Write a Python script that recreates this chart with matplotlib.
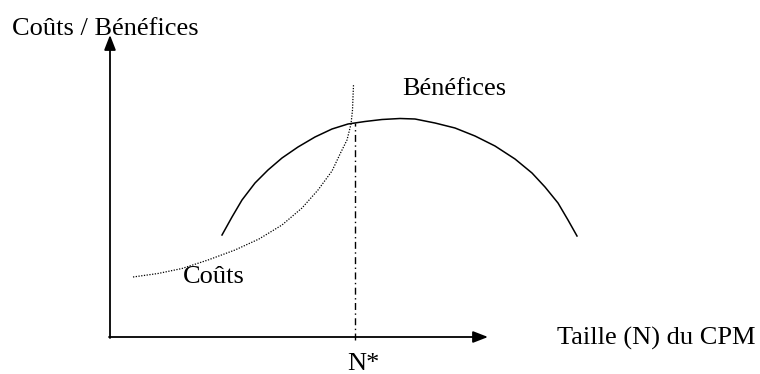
import matplotlib
matplotlib.use('Agg')
import matplotlib.pyplot as plt

# values read off the picture, in units measured from the axes origin
# (N to the right, cost / benefit upwards)
cost_n = [23, 48, 72, 98, 125, 149, 172, 192, 208, 222, 231, 237, 239, 241, 242.5, 243, 243.5]
cost_v = [60, 63.5, 68.5, 77, 87, 98, 112, 129, 147, 166, 185, 197, 205, 213, 227, 240, 252]

benef_n = [112, 122, 132, 145, 158, 172, 188, 205, 222, 238, 255, 272, 290, 305,
           325, 345, 365, 385, 405, 422, 435, 448, 458, 467]
benef_v = [102, 120, 137, 154, 167, 179, 190, 200, 208, 213, 215.5, 217.5, 218.5, 218,
           214, 209, 201, 191, 178, 164, 150, 134, 117, 101]

n_star = 245
n_star_top = 214
x_end = 378
y_end = 302

plt.rcParams['font.family'] = ['Liberation Serif', 'DejaVu Serif']

fig = plt.figure(figsize=(7.6, 3.74), dpi=100)
ax = fig.add_axes([0, 0, 1, 1])
ax.set_xlim(-110, 650)
ax.set_ylim(-37, 337)
ax.axis('off')

# axes with arrow heads
arrow = dict(arrowstyle='-|>,head_length=0.9,head_width=0.35', color='black', lw=1.3,
             shrinkA=0, shrinkB=0)
ax.annotate('', xy=(x_end, 0), xytext=(-1, 0), arrowprops=arrow)
ax.annotate('', xy=(0, y_end), xytext=(0, -1), arrowprops=arrow)

# curves
ax.plot(cost_n, cost_v, color='black', lw=0.9, linestyle=(0, (1, 1.2)))
ax.plot(benef_n, benef_v, color='black', lw=1.1, solid_joinstyle='round')
ax.plot([n_star, n_star], [-3, n_star_top], color='black', lw=1.0,
        linestyle=(0, (5, 2.5, 1, 2.5)))

fs = 19
ax.text(-98, 302, 'Coûts / Bénéfices', fontsize=fs, va='baseline')
ax.text(292, 242, 'Bénéfices', fontsize=fs, va='baseline')
ax.text(447, -8, 'Taille (N) du CPM', fontsize=fs, va='baseline')
ax.text(73, 54, 'Coûts', fontsize=fs, va='baseline')
ax.text(237, -33, 'N*', fontsize=fs, va='baseline')

fig.savefig('out.png', dpi=100)
